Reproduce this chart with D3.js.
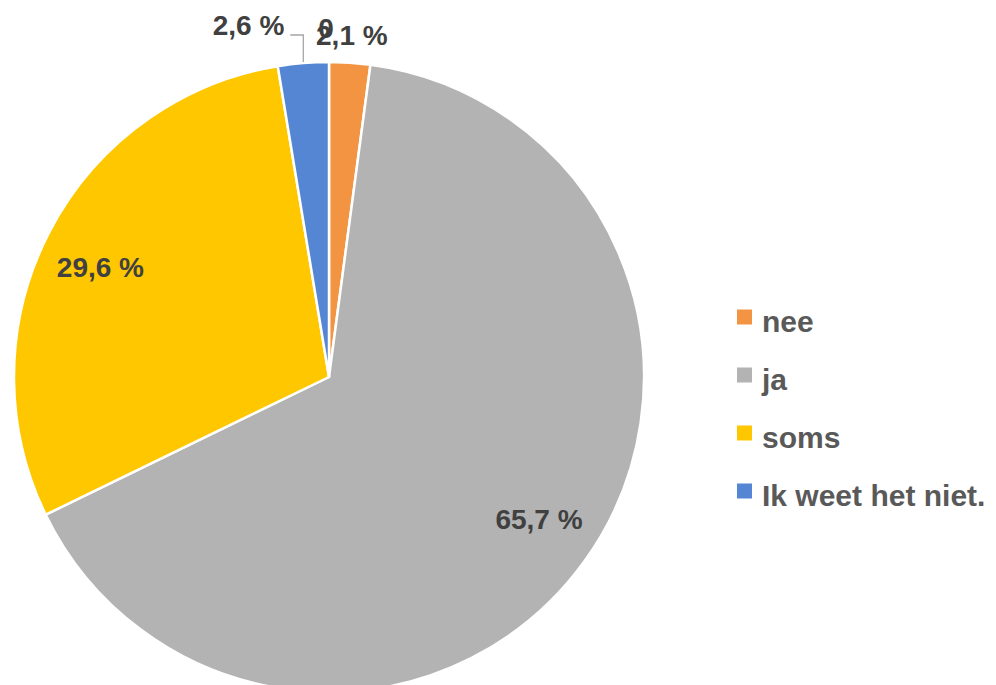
<!DOCTYPE html>
<html>
<head>
<meta charset="utf-8">
<script src="https://cdn.jsdelivr.net/npm/d3@7"></script>
<style>
  html, body { margin: 0; padding: 0; background: #fff; }
</style>
</head>
<body>
<div class="graphic_container"></div>
<script>
// chart data
const categories = ['nee', 'ja', 'soms', 'Ik weet het niet.', ''];
const values = [2.1, 65.7, 29.6, 2.6, 0];
const labels = ['2,1 %', '65,7 %', '29,6 %', '2,6 %', '0'];
const legendItems = ['nee', 'ja', 'soms', 'Ik weet het niet.'];

const colors = ['#F39443', '#B3B3B3', '#FFC700', '#5486D4', '#000000'];

const width = 996, height = 685;
const cx = 329, cy = 377, radius = 315;

const svg = d3.select('.graphic_container')
  .append('svg')
  .attr('width', width)
  .attr('height', height)
  .style('font-family', `'Liberation Sans', Arial, sans-serif`)
  .style('font-weight', 'bold');

const pieData = d3.pie()
  .sort(null)
  .value(d => d.value)(categories.map((c, i) => ({ name: c, value: values[i], label: labels[i], color: colors[i] })));

const arc = d3.arc().innerRadius(0).outerRadius(radius);

const pie_g = svg.append('g')
  .attr('transform', `translate(${cx},${cy})`);

pie_g.selectAll('path')
  .data(pieData.filter(d => d.data.value > 0))
  .enter()
  .append('path')
  .attr('d', arc)
  .style('fill', d => d.data.color)
  .style('stroke', '#fff')
  .style('stroke-width', 2.5)
  .style('stroke-linejoin', 'round');

//labels: big slices inside (slightly rotated back, like excel does), small ones just outside
const outsideArc = d3.arc().innerRadius(radius * 1.1).outerRadius(radius * 1.1);
const insidePos = d => {
  const a = (d.startAngle + d.endAngle) / 2 - 0.03;
  const r = radius * 0.805;
  return [Math.sin(a) * r, -Math.cos(a) * r];
};

pieData.forEach((d, i) => {
  const share = d.data.value;
  let x, y, anchor = 'middle';
  if (share > 10) {
    const pos = insidePos(d);
    x = pos[0];
    y = pos[1] + 10;
  } else {
    const pos = outsideArc.centroid(d);
    x = pos[0];
    y = pos[1] + 14;
  }

  if (d.data.name === 'Ik weet het niet.') {
    // label pushed left with leader line
    const edge = d3.arc().innerRadius(radius).outerRadius(radius).centroid(d);
    pie_g.append('polyline')
      .attr('points', [[edge[0], -radius], [edge[0], -342], [edge[0] - 13, -342]].map(p => p.join(',')).join(' '))
      .style('fill', 'none')
      .style('stroke', '#A6A6A6')
      .style('stroke-width', 1.3);
    x = edge[0] - 19;
    y = -342;
    anchor = 'end';
  }
  if (share === 0) {
    y = -339;
    x = x - 3;
  }

  pie_g.append('text')
    .text(d.data.label)
    .attr('x', x)
    .attr('y', y)
    .attr('text-anchor', anchor)
    .style('font-size', '28px')
    .style('fill', '#404040');
});

//legend
const legendY = d3.scalePoint()
  .domain(legendItems)
  .range([317, 491]);

const legend_g = svg.append('g').attr('id', 'legend');

legendItems.forEach((name, i) => {
  legend_g.append('rect')
    .attr('x', 737)
    .attr('y', legendY(name) - 7.5)
    .attr('width', 15)
    .attr('height', 15)
    .style('fill', colors[i]);

  legend_g.append('text')
    .text(name)
    .attr('x', 762)
    .attr('y', legendY(name) + 15)
    .style('font-size', '30px')
    .style('fill', '#595959');
});
</script>
</body>
</html>
